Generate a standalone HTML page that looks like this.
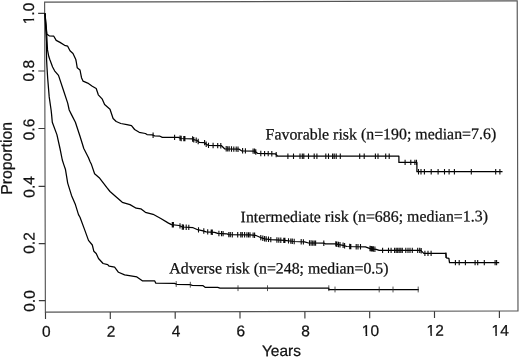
<!DOCTYPE html>
<html><head><meta charset="utf-8"><title>Survival by risk group</title>
<style>html,body{margin:0;padding:0;background:#fff}svg{display:block}
.s{font-family:"Liberation Sans",sans-serif;font-size:15.5px;fill:#111;stroke:#111;stroke-width:0.25px}
.t{font-family:"Liberation Serif",serif;font-size:15.9px;fill:#111;stroke:#111;stroke-width:0.25px}
</style></head><body>
<svg width="520" height="358" viewBox="0 0 520 358">
<rect width="520" height="358" fill="#fff"/>
<g transform="rotate(-0.143 281.3 156.7)">
<rect x="45.0" y="1.5" width="472.6" height="310.1" fill="none" stroke="#555" stroke-width="1.15"/>
<path d="M45.1 311.65v6.8M109.9 311.65v6.8M174.8 311.65v6.8M239.6 311.65v6.8M304.5 311.65v6.8M369.3 311.65v6.8M434.1 311.65v6.8M499.0 311.65v6.8M45.0 300.07h-6.5M45.0 242.97h-6.5M45.0 185.80h-6.5M45.0 127.90h-6.5M45.0 70.36h-6.5M45.0 12.75h-6.5" stroke="#3a3a3a" stroke-width="1.15" fill="none"/>
<g transform="translate(45.8,336.2)"><text class="s" text-anchor="middle">0</text></g>
<g transform="translate(110.6,336.2)"><text class="s" text-anchor="middle">2</text></g>
<g transform="translate(175.5,336.2)"><text class="s" text-anchor="middle">4</text></g>
<g transform="translate(240.3,336.2)"><text class="s" text-anchor="middle">6</text></g>
<g transform="translate(305.2,336.2)"><text class="s" text-anchor="middle">8</text></g>
<g transform="translate(370.0,336.2)"><text class="s" text-anchor="middle">10</text><rect x="-8.31" y="-2.3" width="3.43" height="3.1" fill="#fff"/><rect x="-3.19" y="-2.3" width="3.26" height="3.1" fill="#fff"/></g>
<g transform="translate(434.8,336.2)"><text class="s" text-anchor="middle">12</text><rect x="-8.31" y="-2.3" width="3.43" height="3.1" fill="#fff"/><rect x="-3.19" y="-2.3" width="3.26" height="3.1" fill="#fff"/></g>
<g transform="translate(499.7,336.2)"><text class="s" text-anchor="middle">14</text><rect x="-8.31" y="-2.3" width="3.43" height="3.1" fill="#fff"/><rect x="-3.19" y="-2.3" width="3.26" height="3.1" fill="#fff"/></g>
<g transform="translate(34.3,300.4) rotate(-90)"><text class="s" text-anchor="middle">0.0</text></g>
<g transform="translate(34.3,242.4) rotate(-90)"><text class="s" text-anchor="middle">0.2</text></g>
<g transform="translate(34.3,186.3) rotate(-90)"><text class="s" text-anchor="middle">0.4</text></g>
<g transform="translate(34.3,128.9) rotate(-90)"><text class="s" text-anchor="middle">0.6</text></g>
<g transform="translate(34.3,70.1) rotate(-90)"><text class="s" text-anchor="middle">0.8</text></g>
<g transform="translate(34.3,12.9) rotate(-90)"><text class="s" text-anchor="middle">1.0</text><rect x="-10.46" y="-2.3" width="3.43" height="3.1" fill="#fff"/><rect x="-5.35" y="-2.3" width="3.26" height="3.1" fill="#fff"/></g>
<text class="s" x="281.0" y="356.1" text-anchor="middle">Years</text>
<text class="s" style="font-size:15.8px" transform="translate(11.8,157.7) rotate(-90)" text-anchor="middle">Proportion</text>
</g>
<polyline points="45.0,13.2 45.6,20.0 46.3,28.0 46.9,34.2 49.2,35.8 53.8,36.2 56.2,40.4 60.0,42.4 64.6,45.3 67.7,46.2 70.0,50.7 73.0,53.5 75.7,59.2 76.2,61.5 77.2,67.7 80.0,70.0 81.5,77.7 83.1,81.2 87.7,83.1 92.3,86.2 96.2,88.5 98.3,94.8 102.3,99.2 104.6,104.6 110.0,109.2 113.1,118.5 116.2,121.5 120.8,123.5 126.9,124.6 131.5,125.7 134.6,129.5 139.2,132.3 145.4,133.5 147.0,134.6 152.3,134.9 154.6,135.8 160.0,136.2 162.3,137.4 178.5,137.4 180.8,138.5 192.3,138.8 193.8,139.7 197.0,140.5 199.2,142.3 204.6,142.6 206.2,144.3 208.5,145.4 221.5,145.7 224.6,148.8 239.2,149.2 241.5,150.8 254.6,151.1 257.7,153.4 275.4,153.8 277.7,156.2 398.9,156.2 398.9,162.4 416.9,162.4 416.9,171.7 502.5,171.7" fill="none" stroke="#000" stroke-width="1.25" stroke-linejoin="round"/>
<path d="M153.1 132.5v5.4M174.6 134.7v5.4M180.0 135.4v5.4M181.2 135.8v5.4M183.8 135.9v5.4M184.9 135.9v5.4M192.6 136.3v5.4M193.8 137.0v5.4M196.2 137.6v5.4M198.2 138.8v5.4M204.6 139.9v5.4M206.2 141.6v5.4M208.5 142.7v5.4M213.1 142.8v5.4M217.7 142.9v5.4M220.8 143.0v5.4M226.2 146.1v5.4M227.7 146.2v5.4M229.2 146.2v5.4M231.5 146.3v5.4M233.8 146.4v5.4M236.2 146.4v5.4M238.0 146.5v5.4M242.6 148.1v5.4M245.4 148.2v5.4M253.1 148.4v5.4M254.6 148.4v5.4M255.8 149.3v5.4M260.8 150.8v5.4M264.6 150.9v5.4M268.2 150.9v5.4M271.8 151.0v5.4M276.2 151.9v5.4M287.9 153.5v5.4M293.5 153.5v5.4M300.0 153.5v5.4M302.3 153.5v5.4M303.8 153.5v5.4M308.5 153.5v5.4M314.2 153.5v5.4M316.9 153.5v5.4M325.8 153.5v5.4M328.5 153.5v5.4M332.6 153.5v5.4M334.2 153.5v5.4M336.2 153.5v5.4M340.3 153.5v5.4M359.7 153.5v5.4M364.2 153.5v5.4M375.4 153.5v5.4M378.0 153.5v5.4M385.7 153.5v5.4M389.2 153.5v5.4M405.1 159.7v5.4M410.8 159.7v5.4M414.9 159.7v5.4M416.5 159.7v5.4M418.5 169.0v5.4M421.0 169.0v5.4M424.4 169.0v5.4M431.2 169.0v5.4M438.1 169.0v5.4M444.5 169.0v5.4M449.1 169.0v5.4M454.4 169.0v5.4M471.3 169.0v5.4M495.7 169.0v5.4M499.9 169.0v5.4" stroke="#0a0a0a" stroke-width="1.1" fill="none"/>
<polyline points="45.0,13.2 45.8,24.0 46.7,34.8 47.5,49.9 48.8,56.5 50.0,60.0 52.6,67.0 54.6,70.8 58.5,75.4 63.1,89.2 67.7,103.1 69.2,110.0 71.5,114.6 75.4,122.3 80.0,136.2 83.8,148.5 88.5,157.7 90.0,161.5 91.5,164.6 94.6,173.8 99.2,177.7 106.9,187.7 110.0,191.5 115.4,196.2 122.3,202.3 130.0,204.6 136.2,208.2 140.8,208.8 145.4,212.3 153.1,214.3 160.8,218.5 168.5,223.1 171.5,224.6 179.2,225.5 182.3,227.0 193.1,227.7 197.7,229.7 203.1,230.8 206.2,231.8 214.6,232.3 217.7,233.4 226.9,233.8 228.5,234.6 250.0,234.9 255.4,235.3 260.0,237.3 264.6,238.8 270.8,239.6 284.6,240.4 293.8,241.5 304.6,241.9 308.5,243.0 323.8,243.2 325.4,243.8 335.4,243.8 339.2,244.7 343.1,245.3 346.9,246.5 365.4,246.8 370.8,248.8 376.2,249.3 379.2,250.4 420.8,250.4 423.8,253.4 445.8,253.4 446.3,257.8 448.9,258.3 449.5,262.6 499.2,262.6" fill="none" stroke="#000" stroke-width="1.25" stroke-linejoin="round"/>
<path d="M172.3 222.0v5.4M173.4 222.1v5.4M180.0 223.2v5.4M182.3 224.3v5.4M183.5 224.4v5.4M186.2 224.6v5.4M188.8 224.7v5.4M198.5 227.2v5.4M203.8 228.3v5.4M207.7 229.2v5.4M211.2 229.4v5.4M212.3 229.5v5.4M218.9 230.8v5.4M221.5 230.9v5.4M223.1 230.9v5.4M228.8 231.9v5.4M230.3 231.9v5.4M232.3 232.0v5.4M237.7 232.0v5.4M240.8 232.1v5.4M242.3 232.1v5.4M244.6 232.1v5.4M246.9 232.2v5.4M248.5 232.2v5.4M250.0 232.2v5.4M253.1 232.4v5.4M254.6 232.5v5.4M260.8 234.9v5.4M262.8 235.5v5.4M264.6 236.1v5.4M266.2 236.3v5.4M268.5 236.6v5.4M270.8 236.9v5.4M276.9 237.3v5.4M278.8 237.4v5.4M280.8 237.5v5.4M283.8 237.7v5.4M284.9 237.7v5.4M288.5 238.2v5.4M290.8 238.4v5.4M292.3 238.6v5.4M294.2 238.8v5.4M301.2 239.1v5.4M303.4 239.2v5.4M309.5 240.3v5.4M311.1 240.3v5.4M312.7 240.4v5.4M314.2 240.4v5.4M315.6 240.4v5.4M323.8 240.5v5.4M335.8 241.2v5.4M336.9 241.5v5.4M338.5 241.8v5.4M340.0 242.1v5.4M343.1 242.6v5.4M344.6 243.1v5.4M349.7 243.8v5.4M350.8 243.9v5.4M356.2 244.0v5.4M358.0 244.0v5.4M360.5 244.0v5.4M370.0 245.8v5.4M371.2 246.1v5.4M372.3 246.2v5.4M373.4 246.3v5.4M374.9 246.5v5.4M382.6 247.7v5.4M388.5 247.7v5.4M391.1 247.7v5.4M394.6 247.7v5.4M396.2 247.7v5.4M397.7 247.7v5.4M399.2 247.7v5.4M400.8 247.7v5.4M402.3 247.7v5.4M405.8 247.7v5.4M408.0 247.7v5.4M410.0 247.7v5.4M412.3 247.7v5.4M417.7 247.7v5.4M419.7 247.7v5.4M421.2 248.1v5.4M424.9 250.7v5.4M428.0 250.7v5.4M431.1 250.7v5.4M446.0 252.5v5.4M455.4 259.9v5.4M459.2 259.9v5.4M465.4 259.9v5.4M475.1 259.9v5.4M477.7 259.9v5.4M484.3 259.9v5.4M495.1 259.9v5.4M496.6 259.9v5.4" stroke="#0a0a0a" stroke-width="1.1" fill="none"/>
<polyline points="45.0,13.2 45.3,20.0 46.4,41.5 46.6,60.0 47.0,67.5 47.7,78.5 49.2,96.9 51.1,110.0 51.6,114.6 52.3,122.3 56.9,134.6 60.0,148.5 62.3,160.0 63.8,164.6 65.4,169.2 67.7,183.1 71.5,195.4 75.4,204.6 78.5,214.6 80.0,217.3 84.6,229.6 88.5,240.4 92.3,245.0 93.8,251.2 96.2,253.5 98.5,258.5 103.1,263.5 107.7,264.6 109.2,266.2 114.6,267.2 118.5,272.3 124.6,274.9 130.8,275.8 136.9,276.9 142.3,280.8 154.6,280.8 155.8,283.1 174.6,283.4 176.9,284.3 190.0,284.6 192.3,285.4 203.1,285.7 205.4,287.4 217.7,287.4 220.0,288.2 328.8,288.2 328.8,289.5 418.8,289.5" fill="none" stroke="#000" stroke-width="1.25" stroke-linejoin="round"/>
<path d="M176.2 281.1v5.8M190.3 281.8v5.8M238.0 285.3v5.8M267.5 285.3v5.8M328.8 285.3v5.8M335.0 286.6v5.8M379.2 286.6v5.8M393.0 286.6v5.8M418.2 286.6v5.8" stroke="#2a2a2a" stroke-width="0.8" fill="none"/>
<text class="t" x="265.6" y="139.6" transform="rotate(-0.143 265.6 139.6)">Favorable risk (n=190; median=7.6)</text>
<text class="t" x="240.6" y="222.2" transform="rotate(-0.2 240.6 222.2)">Intermediate risk (n=686; median=1.3)</text>
<text class="t" x="169.3" y="273.6" style="font-size:15.83px" transform="rotate(-0.05 169.3 273.6)">Adverse risk (n=248; median=0.5)</text>
</svg></body></html>
